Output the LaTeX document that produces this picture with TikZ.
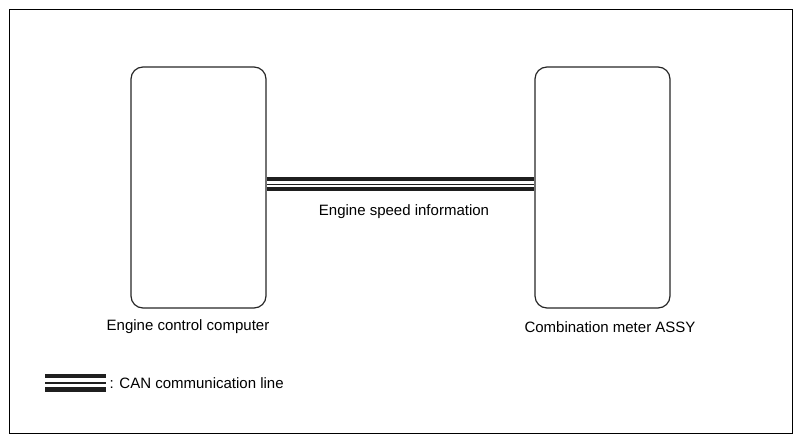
\documentclass[tikz,border=0pt]{standalone}
\usepackage{fontspec}
\setmainfont{Liberation Sans}
\usetikzlibrary{positioning}

\begin{document}
\begin{tikzpicture}[x=1pt,y=-1pt,
    unit/.style={draw=black!85,line width=1.2pt,rounded corners=12pt,
        minimum width=135pt,minimum height=241pt,inner sep=0pt},
    lbl/.style={font=\fontsize{15}{18}\selectfont,inner sep=0pt},
    canthick/.style={line width=3.5pt,draw=black!88},
    canthin/.style={line width=1.1pt,draw=black!88}]
    \useasboundingbox (0,0) rectangle (802,443);
    \draw[line width=1pt] (9.5,9.5) rectangle (792.5,433);
    % units
    \node[unit] (ecu) at (198.5,187.5) {};
    \node[unit] (meter) at (602.5,187.5) {};
    \node[lbl] (ecuLbl) at (188,326.5) {Engine control computer};
    \node[lbl] (meterLbl) at (610,327.5) {Combination meter ASSY};
    % CAN line
    \draw[canthick] ([yshift=8.5pt]ecu.east) -- ([yshift=8.5pt]meter.west);
    \draw[canthin] ([yshift=3pt]ecu.east) -- ([yshift=3pt]meter.west);
    \draw[canthick] ([yshift=-1.5pt]ecu.east) -- ([yshift=-1.5pt]meter.west);
    \node[lbl] (info) at (404,211.5) {Engine speed information};
    % legend
    \coordinate (lgA) at (45,376);
    \coordinate (lgB) at (106,376);
    \draw[canthick,line width=4pt] (lgA) -- (lgB);
    \draw[canthin,line width=1.3pt] ([yshift=-7pt]lgA) -- ([yshift=-7pt]lgB);
    \draw[canthick,line width=4.5pt] ([yshift=-13.5pt]lgA) -- ([yshift=-13.5pt]lgB);
    \node[lbl,anchor=west] (lgLbl) at (109.5,383) {: CAN communication line};
\end{tikzpicture}
\end{document}
